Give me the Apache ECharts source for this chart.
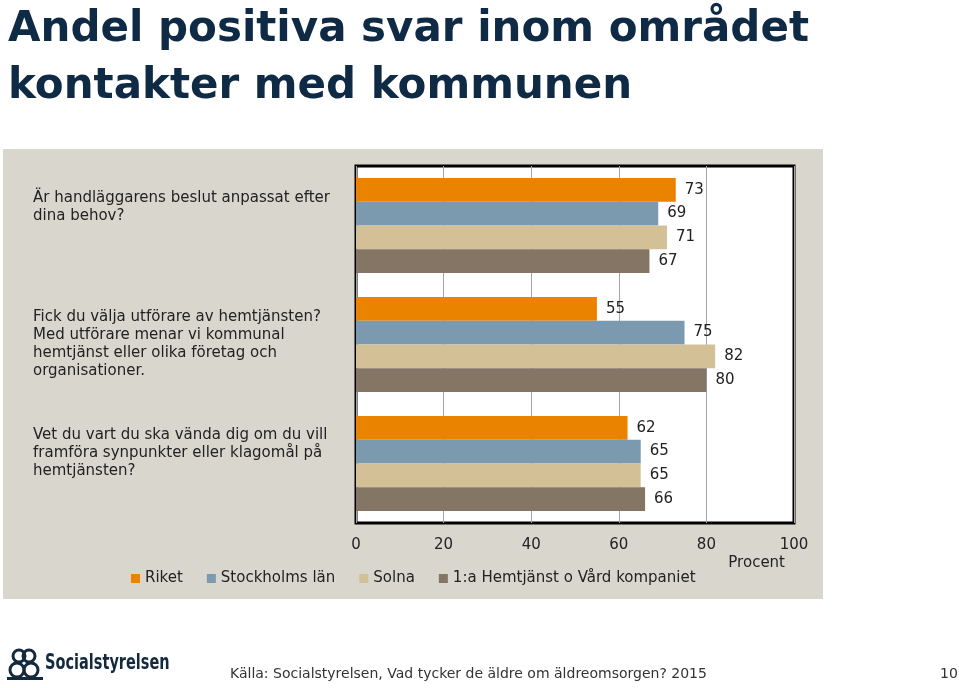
<!DOCTYPE html>
<html>
<head>
<meta charset="utf-8">
<script src="https://cdn.jsdelivr.net/npm/echarts@6/dist/echarts.min.js"></script>
<style>
html,body{margin:0;padding:0;background:#fff;}
#chart{width:959px;height:688px;}
</style>
</head>
<body>
<div id="chart"></div>
<script>
const categories = [
  "Är handläggarens beslut anpassat efter\ndina behov?",
  "Fick du välja utförare av hemtjänsten?\nMed utförare menar vi kommunal\nhemtjänst eller olika företag och\norganisationer.",
  "Vet du vart du ska vända dig om du vill\nframföra synpunkter eller klagomål på\nhemtjänsten?"
];
const seriesNames = ["Riket", "Stockholms län", "Solna", "1:a Hemtjänst o Vård kompaniet"];
const riket = [73, 55, 62];
const stockholmsLan = [69, 75, 65];
const solna = [71, 82, 65];
const hemtjanst = [67, 80, 66];
const xTicks = [0, 20, 40, 60, 80, 100];

const colors = ["#e98300", "#7b9aaf", "#d4c097", "#857564"];
const labelFont = "'DejaVu Sans', sans-serif";
const seriesData = [riket, stockholmsLan, solna, hemtjanst];
const labelTail = ['\n{s36| }', '', '\n{s20| }'];

const chart = echarts.init(document.getElementById('chart'));
chart.setOption({
  animation: false,
  color: colors,
  title: {
    text: "Andel positiva svar inom området\nkontakter med kommunen",
    left: 3, top: -3,
    textStyle: {fontFamily: labelFont, fontSize: 42, fontWeight: 'bold', color: '#0e2a44', lineHeight: 57}
  },
  graphic: {
    elements: [
      {type: 'rect', z: -100, shape: {x: 3, y: 149, width: 820, height: 450}, style: {fill: '#d9d7cd'}},
      {type: 'text', x: 45, y: 652, scaleX: 0.66, style: {text: 'Socialstyrelsen', font: "bold 22px 'DejaVu Sans', sans-serif", fill: '#13293d'}},
      {type: 'circle', shape: {cx: 17, cy: 670, r: 7}, style: {fill: 'none', stroke: '#13293d', lineWidth: 3}},
      {type: 'circle', shape: {cx: 31, cy: 670, r: 7}, style: {fill: 'none', stroke: '#13293d', lineWidth: 3}},
      {type: 'circle', shape: {cx: 19, cy: 656, r: 6}, style: {fill: 'none', stroke: '#13293d', lineWidth: 3}},
      {type: 'circle', shape: {cx: 29, cy: 656, r: 6}, style: {fill: 'none', stroke: '#13293d', lineWidth: 3}},
      {type: 'rect', shape: {x: 7, y: 677, width: 36, height: 3}, style: {fill: '#13293d'}},
      {type: 'text', left: 230, top: 667, style: {text: 'Källa: Socialstyrelsen, Vad tycker de äldre om äldreomsorgen? 2015', font: "14px " + labelFont, fill: '#333'}},
      {type: 'text', left: 940, top: 667, style: {text: '10', font: "14px " + labelFont, fill: '#333'}}
    ]
  },
  legend: {
    data: seriesNames,
    left: 126, top: 566,
    icon: 'rect', itemWidth: 9, itemHeight: 9, itemGap: 24,
    textStyle: {fontFamily: labelFont, fontSize: 15, color: '#222'}
  },
  grid: {
    left: 356, top: 166, right: 165, bottom: 165,
    outerBoundsMode: 'none', containLabel: false,
    show: true, backgroundColor: '#ffffff', borderColor: '#000', borderWidth: 3
  },
  xAxis: {
    type: 'value', min: 0, max: 100, interval: 20,
    name: 'Procent', nameLocation: 'end', nameGap: -9,
    nameTextStyle: {fontFamily: labelFont, fontSize: 15, color: '#222', align: 'right', verticalAlign: 'top', padding: [33,0,0,0]},
    axisLine: {show: false}, axisTick: {show: false},
    splitLine: {show: true, lineStyle: {color: '#a6a6a6', width: 1}},
    axisLabel: {margin: 15, fontFamily: labelFont, fontSize: 15, color: '#222',
      formatter: v => xTicks.includes(v) ? String(v) : ''}
  },
  yAxis: {
    type: 'category', inverse: true,
    data: categories,
    axisLine: {show: false}, axisTick: {show: false},
    axisLabel: {align: 'left', margin: 323, fontFamily: labelFont, fontSize: 15, lineHeight: 18, color: '#222',
      formatter: (v, i) => v + labelTail[i],
      rich: {s36: {lineHeight: 36, fontSize: 2}, s20: {lineHeight: 20, fontSize: 2}}}
  },
  series: seriesNames.map((n, i) => ({
    name: n, type: 'bar', data: seriesData[i],
    barGap: '0%', barCategoryGap: '20%',
    itemStyle: {color: colors[i]},
    label: {show: true, position: 'right', distance: 9, fontFamily: labelFont, fontSize: 15, color: '#222'}
  }))
});
</script>
</body>
</html>
